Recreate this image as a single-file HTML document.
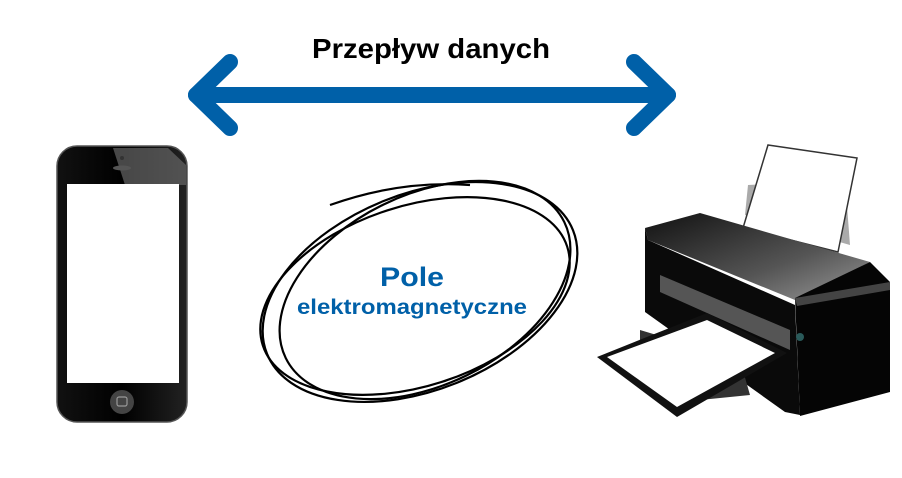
<!DOCTYPE html>
<html><head><meta charset="utf-8"><style>
body{margin:0;background:#fff;width:902px;height:478px;overflow:hidden;position:relative;font-family:"Liberation Sans",sans-serif}
</style></head><body>
<svg width="902" height="478" viewBox="0 0 902 478" style="position:absolute;left:0;top:0">
<defs>
<linearGradient id="pg" x1="0" y1="0" x2="1" y2="0"><stop offset="0" stop-color="#111"/><stop offset="0.5" stop-color="#000"/><stop offset="1" stop-color="#222"/></linearGradient>
<linearGradient id="top" x1="0" y1="0" x2="1" y2="1"><stop offset="0" stop-color="#111"/><stop offset="0.6" stop-color="#555"/><stop offset="1" stop-color="#999"/></linearGradient>
</defs>
<g stroke="#0060a8" stroke-width="16" stroke-linecap="round" stroke-linejoin="round" fill="none">
<line x1="196" y1="95" x2="668" y2="95"/>
<polyline points="230,62 196,95 230,128"/>
<polyline points="634,62 668,95 634,128"/>
</g>
<text x="312" y="58" textLength="238" lengthAdjust="spacingAndGlyphs" font-family="Liberation Sans" font-weight="bold" font-size="28" fill="#000">Przepływ danych</text>
<rect x="57" y="146" width="130" height="276" rx="20" fill="url(#pg)" stroke="#555" stroke-width="1.5"/>
<polygon points="113,148 168,148 186,165 186,185 125,185" fill="#666" opacity="0.7"/>
<rect x="67" y="184" width="112" height="199" fill="#fff"/>
<ellipse cx="122" cy="168" rx="9" ry="2.5" fill="#555"/>
<circle cx="122" cy="158" r="2" fill="#333"/>
<circle cx="122" cy="402" r="12" fill="#444"/>
<rect x="117" y="397" width="10" height="9" rx="2" fill="none" stroke="#999" stroke-width="1.2"/>
<g fill="none" stroke="#000" stroke-width="2.2">
<ellipse cx="420" cy="292" rx="165" ry="98" transform="rotate(-22 420 292)"/>
<ellipse cx="425" cy="290" rx="155" ry="95" transform="rotate(-26 425 290)"/>
<ellipse cx="415" cy="296" rx="160" ry="90" transform="rotate(-18 415 296)"/>
<path d="M330,205 Q400,180 470,185"/>
</g>
<text x="380" y="286" textLength="64" lengthAdjust="spacingAndGlyphs" font-weight="bold" font-size="27" fill="#0060a8">Pole</text>
<text x="297" y="314" textLength="230" lengthAdjust="spacingAndGlyphs" font-weight="bold" font-size="21" fill="#0060a8">elektromagnetyczne</text>
<polygon points="745,215 748,185 845,180 850,245" fill="#aaa"/>
<polygon points="768,145 857,158 838,252 743,228" fill="#fff" stroke="#333" stroke-width="1.5"/>
<polygon points="645,228 700,213 870,262 795,300 648,240" fill="url(#top)"/>
<polygon points="645,228 648,240 795,305 800,415 785,412 645,312" fill="#0a0a0a"/>
<polygon points="660,275 790,330 790,350 660,292" fill="#555"/>
<polygon points="795,298 870,262 890,282 890,392 800,416" fill="#050505"/>
<polygon points="795,298 890,282 890,290 797,306" fill="#444"/>
<polygon points="640,330 740,360 750,395 700,400 640,350" fill="#333"/>
<polygon points="597,357 707,313 787,353 677,417" fill="#111"/>
<polygon points="607,357 707,320 775,353 677,407" fill="#fff"/>
<circle cx="800" cy="337" r="4" fill="#2a5a5a"/>
</svg>
</body></html>
